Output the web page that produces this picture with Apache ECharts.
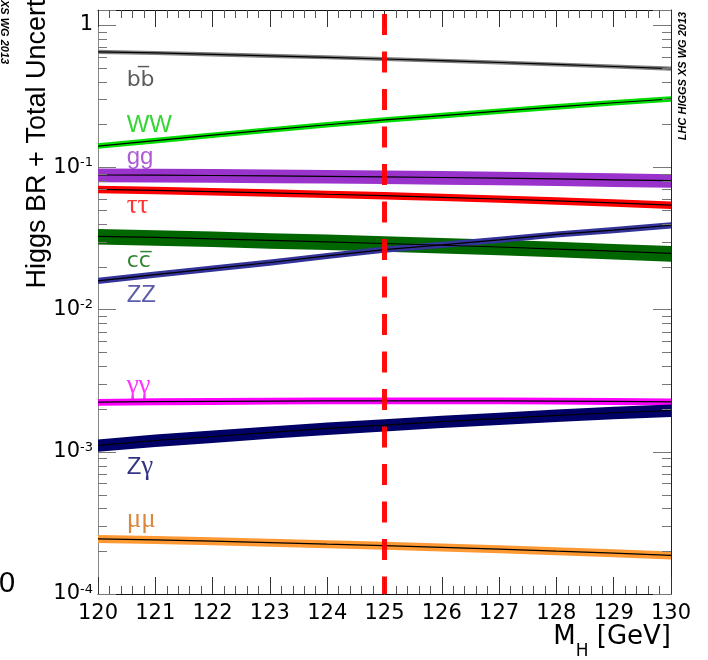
<!DOCTYPE html>
<html><head><meta charset="utf-8">
<script src="https://cdn.jsdelivr.net/npm/echarts@6/dist/echarts.min.js"></script>
<style>html,body{margin:0;padding:0;background:#fff}#c{width:708px;height:660px}</style>
</head><body><div id="c"></div>
<script>
// ---- data ----
const massGeV = [120, 121, 122, 123, 124, 125, 126, 127, 128, 129, 130];
const brBB    = [0.648, 0.636, 0.622, 0.607, 0.593, 0.577, 0.561, 0.545, 0.528, 0.511, 0.494];
const brWW    = [0.141, 0.154, 0.168, 0.183, 0.199, 0.215, 0.231, 0.248, 0.266, 0.284, 0.302];
const brGG    = [0.0882, 0.0879, 0.0875, 0.0869, 0.0863, 0.0856, 0.0847, 0.0838, 0.0828, 0.0816, 0.0805];
const brTauTau= [0.0698, 0.0687, 0.0674, 0.0661, 0.0646, 0.0632, 0.0615, 0.0598, 0.0580, 0.0561, 0.0541];
const brCC    = [0.0327, 0.0321, 0.0314, 0.0306, 0.0299, 0.0291, 0.0283, 0.0275, 0.0266, 0.0257, 0.0248];
const brZZ    = [0.0159, 0.0176, 0.0194, 0.0214, 0.0238, 0.0264, 0.0285, 0.0309, 0.0337, 0.0362, 0.0391];
const brGamGam= [0.00223, 0.00225, 0.00226, 0.00227, 0.00228, 0.00228, 0.00228, 0.00228, 0.00227, 0.00226, 0.00224];
const brZGam  = [0.00111, 0.00120, 0.00128, 0.00137, 0.00146, 0.00154, 0.00163, 0.00171, 0.00180, 0.00188, 0.00195];
const brMuMu  = [0.000244, 0.000240, 0.000235, 0.000230, 0.000224, 0.000219, 0.000213, 0.000207, 0.000200, 0.000194, 0.000187];
// relative total uncertainty per channel (bb, WW, gg, tautau, cc, ZZ, gamgam, Zgam, mumu)
const relUncert = [0.033, 0.045, 0.11, 0.06, 0.125, 0.05, 0.055, 0.10, 0.065];
const channelNames = ['b\u0062\u0305', 'WW', 'gg', '\u03c4\u03c4', 'c\u0063\u0305', 'ZZ', '\u03b3\u03b3', 'Z\u03b3', '\u03bc\u03bc'];
const refMass = 125;
const yTickValues = [1e-4, 1e-3, 1e-2, 1e-1, 1];

// ---- styling ----
const channelData = [brBB, brWW, brGG, brTauTau, brCC, brZZ, brGamGam, brZGam, brMuMu];
const bandColors  = ['#808080', '#00dd00', '#9933cc', '#ff0000', '#006600', '#333399', '#ff00ff', '#000066', '#ff9933'];
const labelColors = ['#333333', '#00cc00', '#9933cc', '#ff0000', '#006600', '#333399', '#ff00ff', '#000066', '#d06a10'];
const labelFonts  = ['sans', 'sans', 'sans', 'serif', 'sans', 'sans', 'serif', 'mixed', 'serif'];
// label anchor (left edge x, vertical center y) in data space
const labelAnchorX = 120.5;
const labelAnchorY = [0.41, 0.198, 0.118, 0.0534, 0.0219, 0.01264, 0.0029, 0.000781, 0.000331];

const X0 = massGeV[0], X1 = massGeV[massGeV.length - 1];
const Y_MIN = 1e-4, Y_MAX = 1.275;
const SANS = '"Liberation Sans", Arial, sans-serif';
const DSANS = '"DejaVu Sans", sans-serif';
const SERIF = '"Liberation Serif", "DejaVu Serif", serif';

const series = [];

// uncertainty bands + central values
channelData.forEach(function (vals, ci) {
  const u = relUncert[ci];
  series.push({
    type: 'custom', coordinateSystem: 'cartesian2d', silent: true, z: 1 + ci * 0.01,
    xAxisIndex: 0, yAxisIndex: 0,
    data: massGeV.map(function (m, i) { return [m, vals[i]]; }),
    renderItem: function (params, api) {
      if (params.dataIndex !== 0) return null;
      const up = massGeV.map(function (m, i) { return api.coord([m, vals[i] * (1 + u)]); });
      const lo = massGeV.map(function (m, i) { return api.coord([m, vals[i] * (1 - u)]); }).reverse();
      return { type: 'polygon', shape: { points: up.concat(lo) }, style: { fill: bandColors[ci] } };
    }
  });
  series.push({
    type: 'line', silent: true, z: 2 + ci * 0.01, symbol: 'none',
    data: massGeV.map(function (m, i) { return [m, vals[i]]; }),
    lineStyle: { color: '#000', width: 1.2 }
  });
});

// y minor ticks (log 2..9) on both sides
const minorVals = [];
for (let e = -4; e <= 0; e++) for (let k = 2; k <= 9; k++) {
  const v = k * Math.pow(10, e);
  if (v < Y_MAX) minorVals.push(v);
}
series.push({
  type: 'custom', coordinateSystem: 'cartesian2d', silent: true, z: 8,
  data: minorVals.map(function (v) { return [X0, v]; }),
  renderItem: function (params, api) {
    const v = api.value(1);
    const L = api.coord([X0, v]), R = api.coord([X1, v]);
    const y = Math.round(L[1]) + 0.5;
    return { type: 'group', children: [
      { type: 'line', shape: { x1: L[0], y1: y, x2: L[0] + 9, y2: y }, style: { stroke: '#777', lineWidth: 1 } },
      { type: 'line', shape: { x1: R[0], y1: y, x2: R[0] - 9, y2: y }, style: { stroke: '#777', lineWidth: 1 } }
    ] };
  }
});

// channel labels
function labelText(ci) {
  const name = channelNames[ci];
  if (labelFonts[ci] === 'mixed') return '{a|' + name[0] + '}{g|' + name.slice(1) + '}';
  if (labelFonts[ci] === 'serif') return '{g|' + name + '}';
  if (name.indexOf('\u0305') >= 0) return '{d|' + name + '}';
  return '{a|' + name + '}';
}
series.push({
  type: 'scatter', silent: true, z: 6, symbolSize: 0,
  data: channelNames.map(function (n, ci) {
    return {
      value: [labelAnchorX, labelAnchorY[ci]],
      label: {
        show: true, position: 'right', distance: 0,
        formatter: labelText(ci),
        rich: {
          a: { fontFamily: SANS, fontSize: 24, color: labelColors[ci] },
          d: { fontFamily: DSANS, fontSize: 22, color: labelColors[ci] },
          g: { fontFamily: SERIF, fontSize: 27, color: labelColors[ci] }
        }
      }
    };
  })
});

// reference mass dashed line
series.push({
  type: 'line', silent: true, z: 10, data: [],
  markLine: {
    silent: true, symbol: 'none', label: { show: false }, animation: false,
    lineStyle: { color: '#ff0000', width: 5, type: [21, 16.5], dashOffset: 3.5, opacity: 0.95 },
    data: [{ xAxis: refMass }]
  }
});

function yFmt(v) {
  const lg = Math.log10(v), e = Math.round(lg);
  if (Math.abs(lg - e) > 1e-6) return '';
  if (e === 0) return '{b|1}';
  return '{b|10}{s|' + e + '}';
}

const xAxisBase = {
  type: 'value', min: X0, max: X1, interval: 1,
  axisLine: { show: true, onZero: false, lineStyle: { color: '#111', width: 1 } },
  axisTick: { show: true, inside: true, length: 17, lineStyle: { color: '#333', width: 1 } },
  minorTick: { show: true, splitNumber: 5, length: 8, lineStyle: { color: '#555', width: 1 } },
  splitLine: { show: false }, minorSplitLine: { show: false }
};
const yAxisBase = {
  type: 'log', logBase: 10, min: Y_MIN, max: Y_MAX,
  axisLine: { show: true, onZero: false, lineStyle: { color: '#888', width: 1 } },
  axisTick: { show: true, inside: true, length: 18, lineStyle: { color: '#777', width: 1 } },
  splitLine: { show: false }
};

const option = {
  animation: false,
  backgroundColor: '#fff',
  grid: { left: 98, right: 37, top: 10, bottom: 66, containLabel: false },
  xAxis: [
    Object.assign({}, xAxisBase, { position: 'bottom',
      axisLabel: { show: true, margin: 9, fontFamily: DSANS, fontSize: 21, color: '#000' } }),
    Object.assign({}, xAxisBase, { position: 'top', axisLabel: { show: false } })
  ],
  yAxis: [
    Object.assign({}, yAxisBase, { position: 'left',
      axisLabel: { show: true, margin: 5, formatter: yFmt,
        rich: { b: { fontFamily: DSANS, fontSize: 21, color: '#000', lineHeight: 22 },
                s: { fontFamily: DSANS, fontSize: 13, color: '#000', verticalAlign: 'top', lineHeight: 14 } } } }),
    Object.assign({}, yAxisBase, { position: 'right', axisLine: { show: true, onZero: false, lineStyle: { color: '#222', width: 1 } }, axisLabel: { show: false } })
  ],
  series: series,
  graphic: [
    { type: 'text', x: 38, y: 144, rotation: Math.PI / 2, silent: true,
      style: { text: 'Higgs BR + Total Uncert', font: '27px ' + SANS, fill: '#000', align: 'center', verticalAlign: 'middle' } },
    { type: 'text', x: 683, y: 76, rotation: Math.PI / 2, silent: true,
      style: { text: 'LHC HIGGS XS WG 2013', font: 'italic bold 11px ' + SANS, fill: '#000', align: 'center', verticalAlign: 'middle' } },
    { type: 'text', x: 4, y: 0, rotation: -Math.PI / 2, silent: true,
      style: { text: 'LHC HIGGS XS WG 2013', font: 'italic bold 11px ' + SANS, fill: '#000', align: 'center', verticalAlign: 'middle' } },
    { type: 'text', x: -1, y: 584, silent: true,
      style: { text: '0', font: '29px ' + SANS, fill: '#000', align: 'left', verticalAlign: 'middle' } },
    { type: 'text', x: 671, y: 624, silent: true,
      style: { text: '{m|M}{h|H}{m| [GeV]}', align: 'right', verticalAlign: 'top',
        rich: { m: { fontFamily: DSANS, fontSize: 26, lineHeight: 36, verticalAlign: 'top', color: '#000' },
                h: { fontFamily: DSANS, fontSize: 17, lineHeight: 17, verticalAlign: 'bottom', color: '#000' } } } }
  ]
};

const chart = echarts.init(document.getElementById('c'), null, { renderer: 'canvas' });
chart.setOption(option);
</script>
</body></html>
